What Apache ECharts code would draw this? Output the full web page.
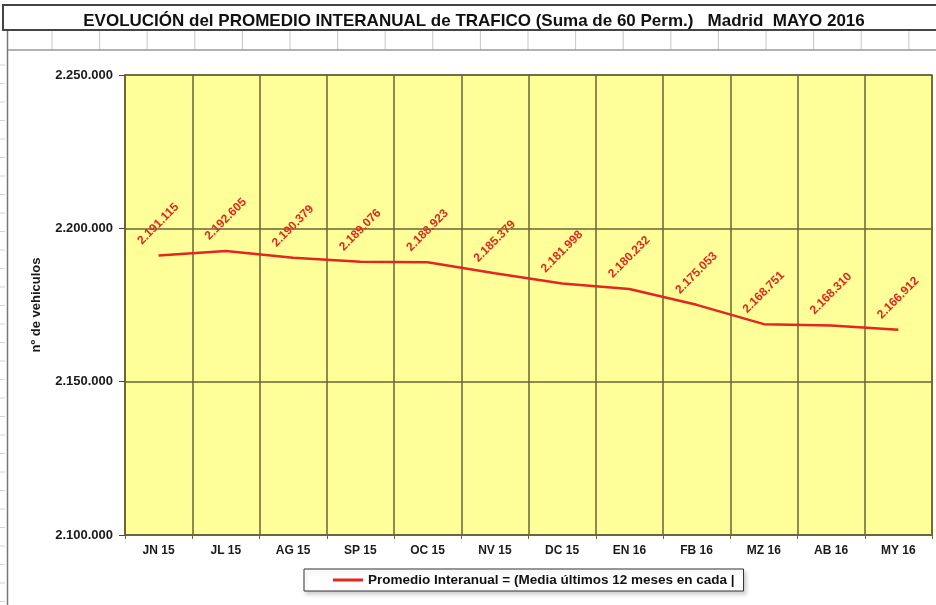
<!DOCTYPE html>
<html>
<head>
<meta charset="utf-8">
<script src="https://cdn.jsdelivr.net/npm/echarts@6/dist/echarts.min.js"></script>
<style>
  html, body { margin: 0; padding: 0; background: #fff; }
  #chart { width: 936px; height: 605px; }
</style>
</head>
<body>
<div id="chart"></div>
<script>
// Monthly points of the year-on-year traffic average
const months = ['JN 15', 'JL 15', 'AG 15', 'SP 15', 'OC 15', 'NV 15', 'DC 15', 'EN 16', 'FB 16', 'MZ 16', 'AB 16', 'MY 16'];
const promedio = [2191115, 2192605, 2190379, 2189076, 2188923, 2185379, 2181998, 2180232, 2175053, 2168751, 2168310, 2166912];
const yTicks = [2100000, 2150000, 2200000, 2250000];

const titleText = 'EVOLUCIÓN del PROMEDIO INTERANUAL de TRAFICO (Suma de 60 Perm.)   Madrid  MAYO 2016';
const seriesName = 'Promedio Interanual = (Media últimos 12 meses en cada mes)';
const yName = 'nº de vehiculos';

// Spanish thousands separator: 2191115 -> "2.191.115"
function fmt(v) {
  return String(Math.round(v)).replace(/\B(?=(\d{3})+(?!\d))/g, '.');
}

const W = 936, H = 605;
const RED = '#e3261f';
const GRIDC = '#66663a';
const FONT = '"Liberation Sans", Arial, sans-serif';

// Spreadsheet frame around the chart object
const frame = [];
frame.push({ type: 'rect', z: 0, shape: { x: 3, y: 5, width: W, height: 25 }, style: { fill: '#fff', stroke: '#444', lineWidth: 2 } });
for (let x = 52; x < W; x += 47.6) {
  frame.push({ type: 'line', z: 0, shape: { x1: x, y1: 31, x2: x, y2: 50 }, style: { stroke: '#c8c8c8', lineWidth: 1 } });
}
frame.push({ type: 'line', z: 0, shape: { x1: 7, y1: 50, x2: W, y2: 50 }, style: { stroke: '#999', lineWidth: 1.5 } });
frame.push({ type: 'line', z: 0, shape: { x1: 7.5, y1: 31, x2: 7.5, y2: H }, style: { stroke: '#777', lineWidth: 1.5 } });
for (let y = 65; y < H; y += 18.5) {
  frame.push({ type: 'line', z: 0, shape: { x1: 0, y1: y, x2: 5, y2: y }, style: { stroke: '#d4d4d4', lineWidth: 1 } });
}

const chart = echarts.init(document.getElementById('chart'), null, { renderer: 'canvas' });
chart.setOption({
  backgroundColor: '#fff',
  animation: false,
  title: {
    text: titleText,
    left: 469, textAlign: 'center',
    top: 8,
    textStyle: { fontFamily: FONT, fontSize: 17, fontWeight: 'bold', color: '#111' }
  },
  graphic: frame,
  grid: {
    left: 125, top: 75, right: 4, bottom: 70,
    show: true,
    backgroundColor: '#ffff99',
    borderColor: GRIDC,
    borderWidth: 1.5
  },
  legend: {
    left: 304, top: 569,
    padding: [4, 9, 4, 29],
    itemGap: 0,
    itemWidth: 30, itemHeight: 3,
    icon: 'rect',
    borderColor: '#333', borderWidth: 1,
    backgroundColor: '#fff',
    shadowColor: 'rgba(0,0,0,0.18)', shadowBlur: 4, shadowOffsetX: 2, shadowOffsetY: 3,
    textStyle: {
      fontFamily: FONT, fontSize: 13.5, fontWeight: 'bold', color: '#111',
      width: 376, overflow: 'truncate', ellipsis: '|'
    },
    data: [{ name: seriesName, itemStyle: { color: RED } }]
  },
  xAxis: {
    type: 'category',
    data: months,
    boundaryGap: true,
    axisLine: { show: true, lineStyle: { color: GRIDC, width: 1.5 } },
    axisTick: { show: true, length: 4, lineStyle: { color: GRIDC } },
    splitLine: { show: true, lineStyle: { color: GRIDC, width: 1.5 } },
    axisLabel: { margin: 10, fontFamily: FONT, fontSize: 12, fontWeight: 'bold', color: '#1a1a1a' }
  },
  yAxis: {
    type: 'value',
    min: yTicks[0], max: yTicks[yTicks.length - 1], interval: yTicks[1] - yTicks[0],
    name: yName,
    nameLocation: 'middle',
    nameGap: 82,
    nameRotate: 90,
    nameTextStyle: { fontFamily: FONT, fontSize: 13, fontWeight: 'bold', color: '#1a1a1a' },
    axisLine: { show: true, lineStyle: { color: GRIDC, width: 1.5 } },
    axisTick: { show: true, length: 6, lineStyle: { color: '#444' } },
    splitLine: { show: true, lineStyle: { color: GRIDC, width: 1.5 } },
    axisLabel: { margin: 12, formatter: fmt, fontFamily: FONT, fontSize: 13, fontWeight: 'bold', color: '#1a1a1a' }
  },
  series: [{
    name: seriesName,
    type: 'line',
    data: promedio,
    symbol: 'circle',
    symbolSize: 2,
    showSymbol: true,
    itemStyle: { color: 'rgba(0,0,0,0)' },
    lineStyle: { color: RED, width: 2.5 },
    label: {
      show: true,
      position: [-18, -12],
      rotate: 45,
      align: 'left',
      verticalAlign: 'middle',
      formatter: p => fmt(p.value),
      fontFamily: FONT, fontSize: 12, fontWeight: 'bold', color: RED
    }
  }]
});
</script>
</body>
</html>
